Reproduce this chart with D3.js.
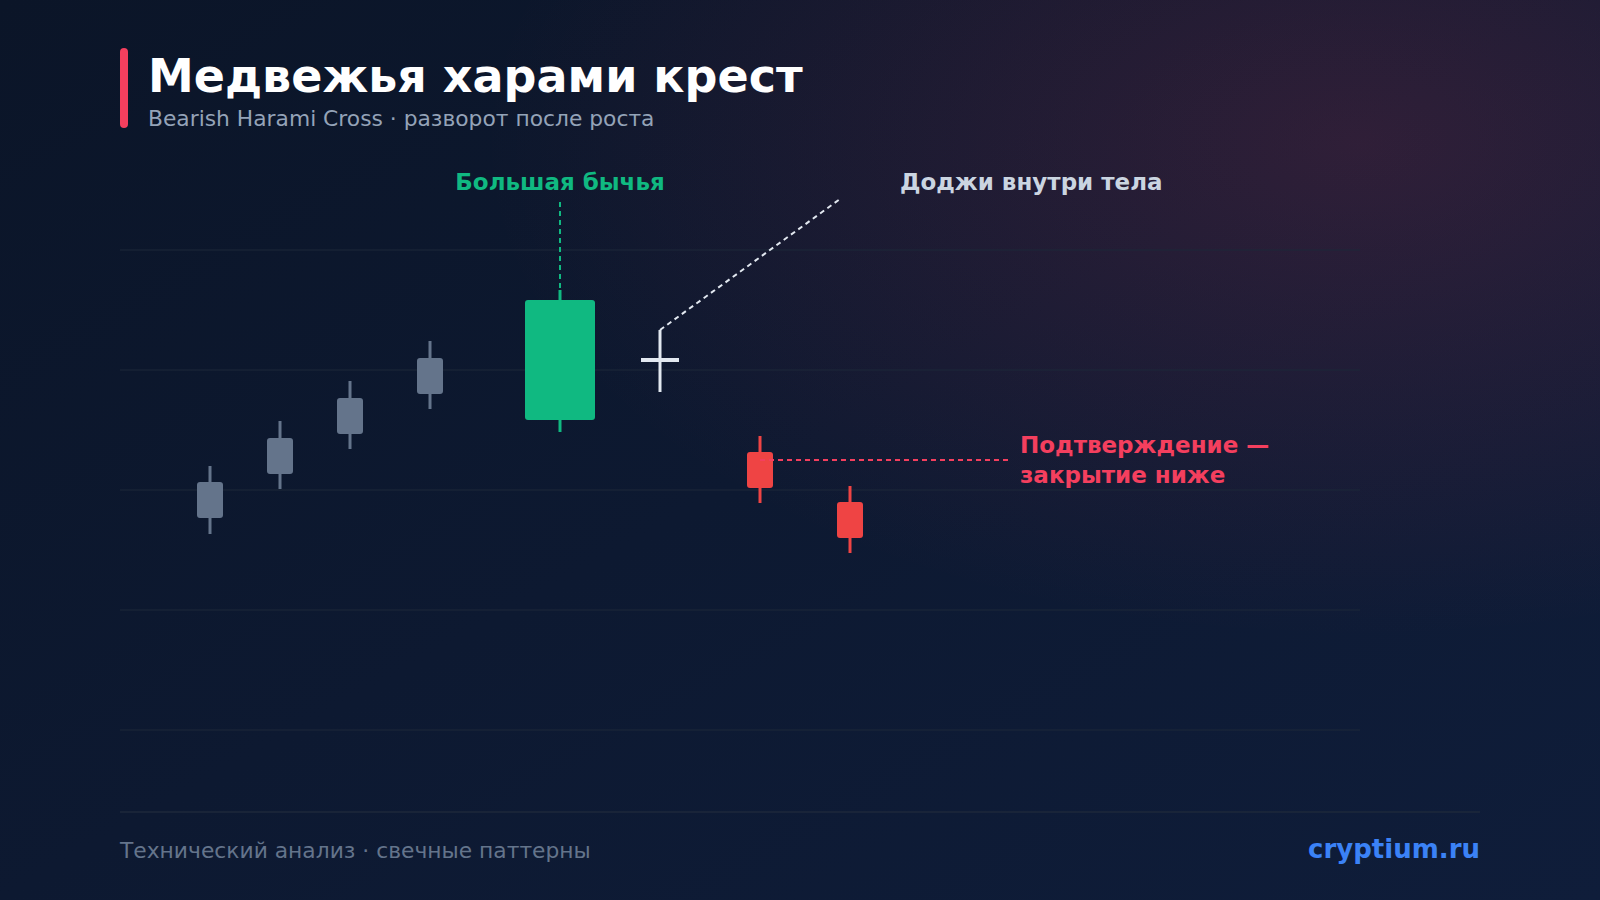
<!DOCTYPE html>
<html>
<head>
<meta charset="utf-8">
<script src="https://cdn.jsdelivr.net/npm/d3@7"></script>
<style>
  html, body { margin: 0; padding: 0; background: #0c1729; }
  svg { display: block; font-family: "DejaVu Sans", sans-serif; }
</style>
</head>
<body>
<div id="chart"></div>
<script>
// свечи: позиция по времени, open, high, low, close
const candleT = [9, 16, 23, 31, 44, 54, 64, 73];
const candleOpen = [53, 64, 74, 84, 77.5, 92.5, 69.5, 57];
const candleClose = [62, 73, 83, 93, 107.5, 92.5, 60.5, 48];
const candleHigh = [66, 77.25, 87.25, 97.25, 110, 100, 73.5, 61];
const candleLow = [49, 60.25, 70.25, 80.25, 74.5, 84.5, 56.75, 44.25];
const candleKind = ["trend", "trend", "trend", "trend", "bull", "doji", "bear", "bear"];
const gridTicks = [0, 30, 60, 90, 120];
const confirmLevel = 67.5;

const titleText = "Медвежья харами крест";
const subtitleText = "Bearish Harami Cross · разворот после роста";
const bullLabel = "Большая бычья";
const dojiLabel = "Доджи внутри тела";
const confirmLabel = ["Подтверждение —", "закрытие ниже"];
const footerLeft = "Технический анализ · свечные паттерны";
const footerRight = "cryptium.ru";

const width = 1600, height = 900;
const margin = { left: 120, right: 240, top: 250, bottom: 170 };

const x = d3.scaleLinear([0, 124], [margin.left, width - margin.right]);
const y = d3.scaleLinear([0, 120], [height - margin.bottom, margin.top]);

const colors = { trend: "#64748b", bull: "#10b981", doji: "#e2e8f0", bear: "#ef4444" };
const bodyWidth = { trend: 26, bull: 70, doji: 38, bear: 26 };

const svg = d3.select("#chart").append("svg")
  .attr("width", width)
  .attr("height", height);

const defs = svg.append("defs");
const bg = defs.append("linearGradient").attr("id", "bg")
  .attr("x1", 0).attr("y1", 0).attr("x2", 1).attr("y2", 1);
bg.append("stop").attr("offset", 0).attr("stop-color", "#0b1528");
bg.append("stop").attr("offset", 1).attr("stop-color", "#0f1d3a");

const glow = defs.append("radialGradient").attr("id", "glow")
  .attr("cx", 0.85).attr("cy", 0.16).attr("r", 0.55);
glow.append("stop").attr("offset", 0).attr("stop-color", "#f43f5e").attr("stop-opacity", 0.15);
glow.append("stop").attr("offset", 1).attr("stop-color", "#f43f5e").attr("stop-opacity", 0);

svg.append("rect").attr("width", width).attr("height", height).attr("fill", "url(#bg)");
svg.append("rect").attr("width", width).attr("height", height).attr("fill", "url(#glow)");

// заголовок
svg.append("rect")
  .attr("x", 120).attr("y", 48)
  .attr("width", 8).attr("height", 80)
  .attr("rx", 4)
  .attr("fill", "#f43f5e");

svg.append("text")
  .attr("x", 148).attr("y", 92)
  .attr("fill", "#ffffff")
  .attr("font-size", 46)
  .attr("font-weight", "bold")
  .text(titleText);

svg.append("text")
  .attr("x", 148).attr("y", 126)
  .attr("fill", "#94a3b8")
  .attr("font-size", 21.8)
  .text(subtitleText);

// сетка
svg.append("g")
  .selectAll("line")
  .data(gridTicks)
  .join("line")
  .attr("x1", margin.left)
  .attr("x2", width - margin.right)
  .attr("y1", (d) => y(d))
  .attr("y2", (d) => y(d))
  .attr("stroke", "#1e293b")
  .attr("stroke-opacity", 0.7)
  .attr("stroke-width", 1.5);

const candles = candleT.map((t, i) => ({
  t,
  open: candleOpen[i],
  close: candleClose[i],
  high: candleHigh[i],
  low: candleLow[i],
  kind: candleKind[i],
}));

const bull = candles.find((d) => d.kind === "bull");
const doji = candles.find((d) => d.kind === "doji");
const bear = candles.find((d) => d.kind === "bear");

// аннотации
svg.append("line")
  .attr("x1", x(bull.t)).attr("x2", x(bull.t))
  .attr("y1", 202).attr("y2", y(bull.high))
  .attr("stroke", "#10b981")
  .attr("stroke-width", 2)
  .attr("stroke-dasharray", "5,4");

svg.append("text")
  .attr("x", x(bull.t)).attr("y", 190)
  .attr("text-anchor", "middle")
  .attr("fill", "#10b981")
  .attr("font-size", 23)
  .attr("font-weight", "bold")
  .text(bullLabel);

svg.append("line")
  .attr("x1", x(doji.t)).attr("y1", y(doji.high))
  .attr("x2", 840).attr("y2", 199)
  .attr("stroke", "#e2e8f0")
  .attr("stroke-width", 2)
  .attr("stroke-dasharray", "5,4");

svg.append("text")
  .attr("x", 900).attr("y", 190)
  .attr("fill", "#cbd5e1")
  .attr("font-size", 23)
  .attr("font-weight", "bold")
  .text(dojiLabel);

svg.append("text")
  .attr("x", 1020).attr("y", 453)
  .attr("fill", "#f43f5e")
  .attr("font-size", 23)
  .attr("font-weight", "bold")
  .selectAll("tspan")
  .data(confirmLabel)
  .join("tspan")
  .attr("x", 1020)
  .attr("dy", (d, i) => (i === 0 ? 0 : 30))
  .text((d) => d);

// свечи
const g = svg.append("g");
candles.forEach((d) => {
  const cx = x(d.t);
  const col = colors[d.kind];
  g.append("line")
    .attr("x1", cx).attr("x2", cx)
    .attr("y1", y(d.high)).attr("y2", y(d.low))
    .attr("stroke", col)
    .attr("stroke-width", 3);
  if (d.kind === "doji") {
    g.append("line")
      .attr("x1", cx - bodyWidth.doji / 2).attr("x2", cx + bodyWidth.doji / 2)
      .attr("y1", y(d.open)).attr("y2", y(d.open))
      .attr("stroke", col)
      .attr("stroke-width", 4);
  } else {
    const top = y(Math.max(d.open, d.close));
    const bot = y(Math.min(d.open, d.close));
    g.append("rect")
      .attr("x", cx - bodyWidth[d.kind] / 2)
      .attr("y", top)
      .attr("width", bodyWidth[d.kind])
      .attr("height", bot - top)
      .attr("rx", 3)
      .attr("fill", col);
  }
});

// пунктир подтверждения поверх свечи
svg.append("line")
  .attr("x1", x(bear.t)).attr("x2", 1008)
  .attr("y1", y(confirmLevel)).attr("y2", y(confirmLevel))
  .attr("stroke", "#f43f5e")
  .attr("stroke-width", 2)
  .attr("stroke-dasharray", "5,4");

// подвал
svg.append("line")
  .attr("x1", 120).attr("x2", 1480)
  .attr("y1", 812).attr("y2", 812)
  .attr("stroke", "#1e293b")
  .attr("stroke-width", 1.5);

svg.append("text")
  .attr("x", 120).attr("y", 858)
  .attr("fill", "#64748b")
  .attr("font-size", 21.8)
  .text(footerLeft);

svg.append("text")
  .attr("x", 1480).attr("y", 858)
  .attr("text-anchor", "end")
  .attr("fill", "#3b82f6")
  .attr("font-size", 26)
  .attr("font-weight", "bold")
  .text(footerRight);
</script>
</body>
</html>
